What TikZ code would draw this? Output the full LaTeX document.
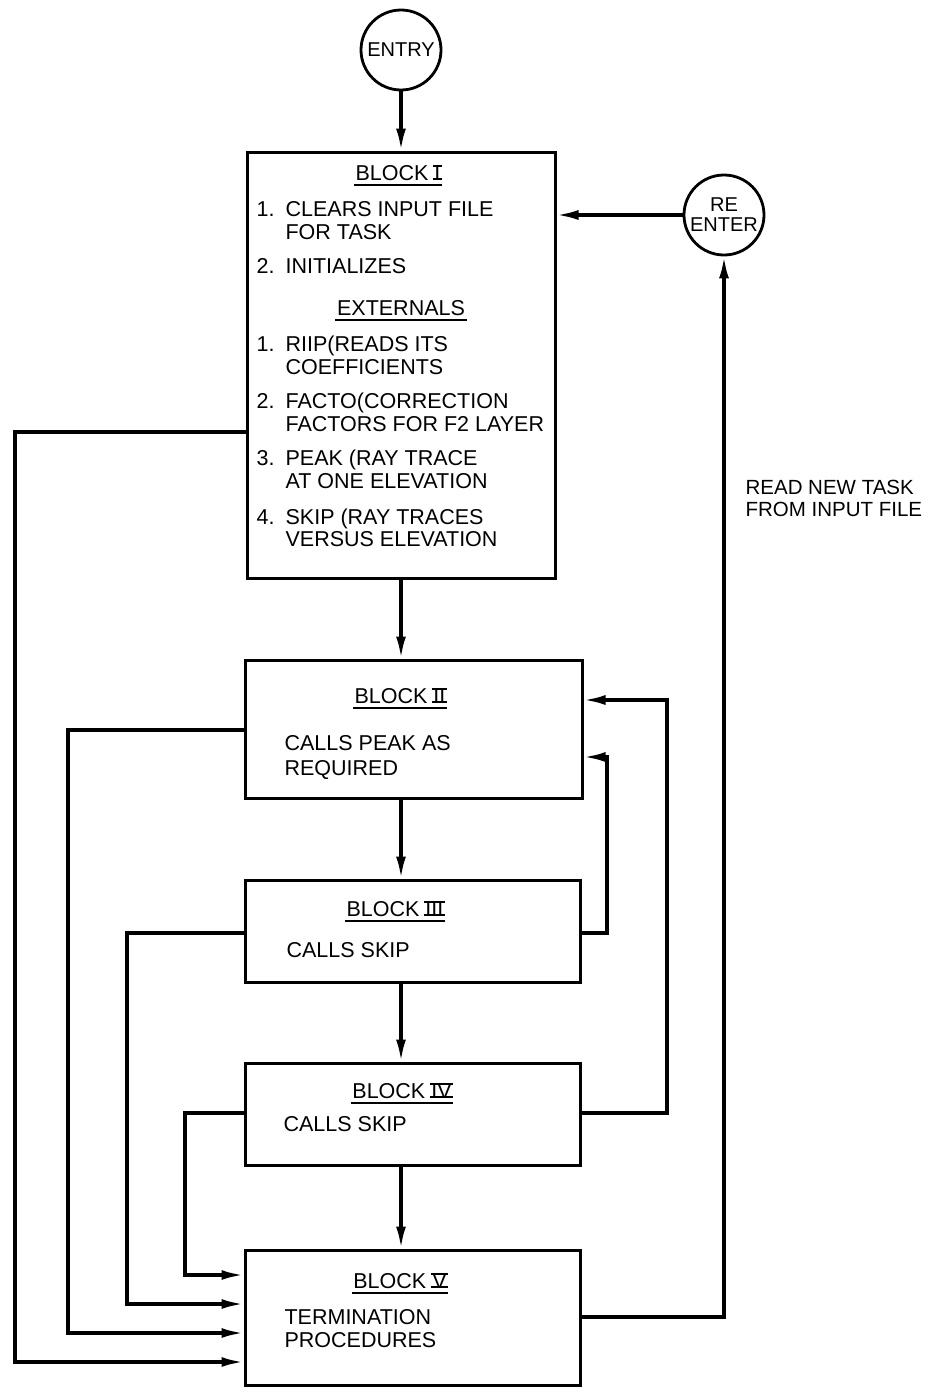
\documentclass[tikz,border=0pt]{standalone}
\usepackage{fontspec}
\setmainfont{Liberation Sans}
\usetikzlibrary{arrows.meta}
\newcommand{\rmn}[1]{\setbox0=\hbox{#1}\rlap{\kern-1.5pt\rule{\dimexpr\wd0+3pt\relax}{1.8pt}}\rlap{\kern-1.5pt\raisebox{\dimexpr\ht0-1.8pt\relax}{\rule{\dimexpr\wd0+3pt\relax}{1.8pt}}}\box0}
\begin{document}
\begin{tikzpicture}[x=1pt,y=-1pt,line width=3.2pt,
  box/.style={draw,rectangle,inner sep=0,line width=3pt},
  circ/.style={draw,circle,minimum size=80pt,inner sep=0,line width=2.8pt,align=center,font=\fontsize{20}{20}\selectfont},
  txt/.style={anchor=base west,inner sep=0,font=\fontsize{21.5}{23}\selectfont},
  ttl/.style={anchor=base,inner sep=0,font=\fontsize{21.5}{23}\selectfont},
  side/.style={anchor=base west,inner sep=0,font=\fontsize{20.5}{22}\selectfont},
  arr/.style={-{Latex[length=22pt,width=10pt]}},
  ul/.style={line width=2.2pt}]
\useasboundingbox (0,0) rectangle (945,1392);

% nodes
\node[circ] (entry) at (401,50) {ENTRY};
\node[circ] (reenter) at (724,215) {RE\\ENTER};
\node[box,minimum width=308pt,minimum height=426pt] (b1) at (401,365) {};
\node[box,minimum width=337pt,minimum height=138pt] (b2) at (413.5,729) {};
\node[box,minimum width=335pt,minimum height=102pt] (b3) at (412.5,931) {};
\node[box,minimum width=335pt,minimum height=102pt] (b4) at (412.5,1114) {};
\node[box,minimum width=335pt,minimum height=135pt] (b5) at (412.5,1317.5) {};

% Block I text
\node[ttl] (t1) at (398,180) {BLOCK \rmn{I}};
\draw[ul] ([yshift=-5pt]t1.base west) -- ([yshift=-5pt]t1.base east);
\node[txt] (n11) at (255,216) {1.};
\node[txt] (l11) at (284,216) {CLEARS INPUT FILE};
\node[txt] (l12) at (284,239) {FOR TASK};
\node[txt] (n12) at (255,273) {2.};
\node[txt] (l13) at (284,273) {INITIALIZES};
\node[ttl] (tx) at (401,315) {EXTERNALS};
\draw[ul] ([yshift=-5pt]tx.base west) -- ([yshift=-5pt]tx.base east);
\node[txt] (n21) at (255,351) {1.};
\node[txt] (l21) at (284,351) {RIIP(READS ITS};
\node[txt] (l22) at (284,374) {COEFFICIENTS};
\node[txt] (n22) at (255,408) {2.};
\node[txt] (l23) at (284,408) {FACTO(CORRECTION};
\node[txt] (l24) at (284,431) {FACTORS FOR F2 LAYER};
\node[txt] (n23) at (255,465) {3.};
\node[txt] (l25) at (284,465) {PEAK (RAY TRACE};
\node[txt] (l26) at (284,488) {AT ONE ELEVATION};
\node[txt] (n24) at (255,524) {4.};
\node[txt] (l27) at (284,524) {SKIP (RAY TRACES};
\node[txt] (l28) at (284,546) {VERSUS ELEVATION};

% Block II
\node[ttl] (t2) at (400,703) {BLOCK \rmn{II}};
\draw[ul] ([yshift=-5pt]t2.base west) -- ([yshift=-5pt]t2.base east);
\node[txt] (l31) at (283,750) {CALLS PEAK AS};
\node[txt] (l32) at (283,775) {REQUIRED};

% Block III
\node[ttl] (t3) at (395,916) {BLOCK \rmn{III}};
\draw[ul] ([yshift=-5pt]t3.base west) -- ([yshift=-5pt]t3.base east);
\node[txt] (l41) at (285,957) {CALLS SKIP};

% Block IV
\node[ttl] (t4) at (402,1098) {BLOCK \rmn{IV}};
\draw[ul] ([yshift=-5pt]t4.base west) -- ([yshift=-5pt]t4.base east);
\node[txt] (l51) at (282,1131) {CALLS SKIP};

% Block V
\node[ttl] (t5) at (400,1288) {BLOCK \rmn{V}};
\draw[ul] ([yshift=-5pt]t5.base west) -- ([yshift=-5pt]t5.base east);
\node[txt] (l61) at (283,1324) {TERMINATION};
\node[txt] (l62) at (283,1347) {PROCEDURES};

% side label
\node[side] (s1) at (744,494) {READ NEW TASK};
\node[side] (s2) at (744,516) {FROM INPUT FILE};

% vertical flow
\draw[arr] (entry.south) -- (b1.north -| entry.south);
\draw[arr] (b1.south) -- (b2.north -| b1.south);
\draw[arr] (b2.south -| b1.south) -- (b3.north -| b1.south);
\draw[arr] (b3.south -| b1.south) -- (b4.north -| b1.south);
\draw[arr] (b4.south -| b1.south) -- (b5.north -| b1.south);

% re-enter
\draw[arr] (reenter.west) -- (reenter.west -| b1.east);
\draw[arr] (b5.east |- 0,1317) -- (reenter.south |- 0,1317) -- (reenter.south);

% left returns to block V
\draw[arr] (b1.west |- 0,432) -- (15,432) -- (15,1362) -- (b5.west |- 0,1362);
\draw[arr] (b2.west |- 0,730) -- (68,730) -- (68,1333) -- (b5.west |- 0,1333);
\draw[arr] (b3.west |- 0,933) -- (127,933) -- (127,1304) -- (b5.west |- 0,1304);
\draw[arr] (b4.west |- 0,1113) -- (185,1113) -- (185,1275) -- (b5.west |- 0,1275);

% right loops back to block II
\draw[arr] (b3.east |- 0,933) -- (607,933) -- (607,757) -- (b2.east |- 0,757);
\draw[arr] (b4.east |- 0,1113) -- (667,1113) -- (667,700) -- (b2.east |- 0,700);
\end{tikzpicture}
\end{document}
